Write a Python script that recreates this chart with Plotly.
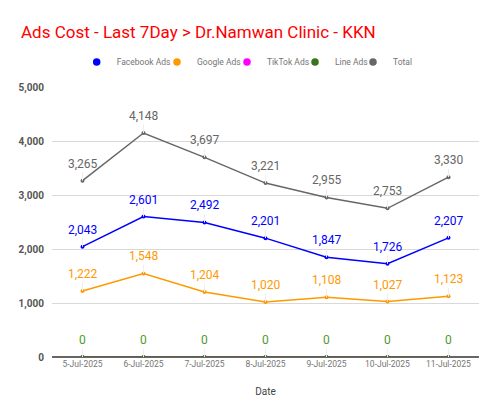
import plotly.graph_objects as go

dates = ["5-Jul-2025", "6-Jul-2025", "7-Jul-2025", "8-Jul-2025", "9-Jul-2025", "10-Jul-2025", "11-Jul-2025"]
facebook = [2043, 2601, 2492, 2201, 1847, 1726, 2207]
google = [1222, 1548, 1204, 1020, 1108, 1027, 1123]
tiktok = [0, 0, 0, 0, 0, 0, 0]
line_ads = [0, 0, 0, 0, 0, 0, 0]
total = [3265, 4148, 3697, 3221, 2955, 2753, 3330]

series = [
    ("Facebook Ads", facebook, "#0000ff", True),
    ("Google Ads", google, "#ff9900", True),
    ("TikTok Ads", tiktok, "#ff00ff", False),
    ("Line Ads", line_ads, "#38761d", True),
    ("Total", total, "#666666", True),
]
legend_x = [0.0578, 0.2459, 0.4098, 0.5691, 0.7049]

fig = go.Figure()
annotations = []
for name, vals, color, show_labels in series:
    fig.add_trace(go.Scatter(
        x=dates, y=vals, name=name, mode="lines+markers",
        line=dict(color=color, width=1.5),
        marker=dict(color=color, size=4),
        showlegend=False,
    ))
    if show_labels:
        lc = "#4e9a2a" if name == "Line Ads" else color
        for d, v in zip(dates, vals):
            annotations.append(dict(
                x=d, y=v, xref="x", yref="y", text=f"{v:,}",
                showarrow=True, arrowhead=0, arrowwidth=1, arrowcolor="#eeeeee",
                ax=0, ay=-17, yanchor="middle",
                font=dict(family="Roboto", size=12, color=lc),
            ))

# legend entries as dots, one legend per entry for exact spacing
legend_layout = {}
for i, ((name, vals, color, _), lx) in enumerate(zip(series, legend_x)):
    key = "legend" if i == 0 else f"legend{i+1}"
    fig.add_trace(go.Scatter(
        x=[None], y=[None], name=name, mode="markers",
        marker=dict(color=color, size=7.5), showlegend=True,
        legend=key,
    ))
    legend_layout[key] = dict(
        orientation="h", xref="paper", yref="paper",
        x=lx, xanchor="left", y=1.0926, yanchor="middle",
        font=dict(family="Roboto", size=8.5, color="#757575"),
        itemwidth=30, bgcolor="rgba(0,0,0,0)",
    )

fig.update_layout(
    width=500, height=415,
    margin=dict(l=52, r=21, t=87, b=58),
    paper_bgcolor="white", plot_bgcolor="white",
    title=dict(text="Ads Cost - Last 7Day > Dr.Namwan Clinic - KKN",
               x=0.042, xanchor="left", y=0.922, yanchor="middle",
               font=dict(family="Roboto", size=17, color="#ff0000")),
    showlegend=True,
    annotations=annotations,
    font=dict(family="Roboto"),
    **legend_layout,
)
fig.update_xaxes(
    type="category", range=[-0.5, 6.5],
    showgrid=False, showline=False, zeroline=False,
    tickfont=dict(family="Roboto", size=8.5, color="#757575"),
    title=dict(text="Date", font=dict(family="Roboto", size=10, color="#444444"), standoff=20),
    ticks="",
)
fig.update_yaxes(
    range=[0, 5000], tickvals=[0, 1000, 2000, 3000, 4000, 5000],
    tickformat=",", showgrid=True, gridcolor="#d9d9d9", gridwidth=1,
    zeroline=True, zerolinecolor="#666666", zerolinewidth=2,
    tickfont=dict(family="Roboto", size=10, color="#555555", weight="bold"),
    ticklabelstandoff=7,
)

fig.write_html("out.html")
